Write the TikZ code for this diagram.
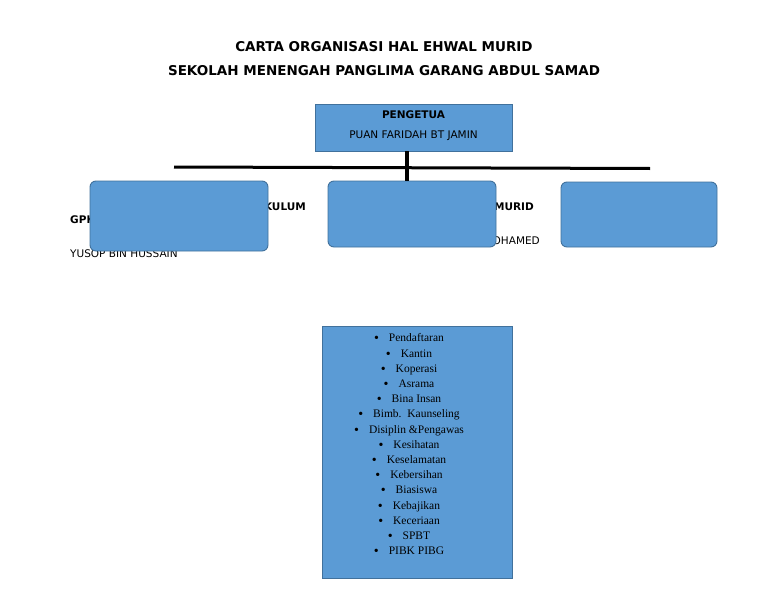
\documentclass[tikz,border=0pt]{standalone}
\usepackage{fontspec}
\setmainfont{DejaVu Sans}
\newfontfamily\listfont{Liberation Serif}
\definecolor{Isi}{HTML}{5B9BD5}
\definecolor{Garis}{HTML}{41719C}
\newcommand{\titik}{\raisebox{-1pt}{\fontsize{14}{15.2}\selectfont\textbullet}\hspace{10pt}}
\newcommand{\perkara}[1]{\titik#1\\} % one list item

\begin{document}
\begin{tikzpicture}[x=1pt,y=-1pt,
    kotak/.style={draw=Garis,fill=Isi,inner sep=0pt,line width=0.9pt},
    bulat/.style={kotak,rounded corners=6pt},
    label/.style={font=\fontsize{10.5}{12}\selectfont,inner sep=0pt}]
  \useasboundingbox (0,0) rectangle (768,594);
  % title
  \node[font=\fontsize{13.5}{16}\selectfont\bfseries] (tajuk) at (384,47) {CARTA ORGANISASI HAL EHWAL MURID};
  \node[font=\fontsize{13.5}{16}\selectfont\bfseries] (sekolah) at (384,71) {SEKOLAH MENENGAH PANGLIMA GARANG ABDUL SAMAD};
  % pengetua
  \node[kotak,minimum width=197pt,minimum height=47pt] (ketua) at (413.5,127.5) {};
  \node[label,font=\fontsize{10.5}{12}\selectfont\bfseries] (jawatan) at (413.5,115) {PENGETUA};
  \node[label] (nama) at (413.5,136) {PUAN FARIDAH BT JAMIN};
  % texts under the boxes
  \node[label,anchor=west,font=\fontsize{10.5}{12}\selectfont\bfseries] (gpkA) at (70,220) {GPK};
  \node[label,anchor=east,font=\fontsize{10.5}{12}\selectfont\bfseries] (kokum) at (306,207) {KOKURIKULUM};
  \node[label,anchor=west] (yusop) at (70,254) {YUSOP BIN HUSSAIN};
  \node[label,anchor=east,font=\fontsize{10.5}{12}\selectfont\bfseries] (hem) at (534,207) {HAL EHWAL MURID};
  \node[label,anchor=east] (mohamed) at (540,241) {MOHAMED};
  % boxes
  \node[bulat,minimum width=178pt,minimum height=70pt] (gpk1) at (179,216) {};
  \node[bulat,minimum width=168pt,minimum height=66pt] (gpk2) at (412,214) {};
  \node[bulat,minimum width=156pt,minimum height=65pt] (gpk3) at (639,214.5) {};
  % lines
  \coordinate (kiri) at (174,167);
  \coordinate (kanan) at (650,168.5);
  \coordinate (atas) at (407,151);
  \draw[line width=3pt] (kiri) -- (kanan);
  \draw[line width=3.5pt] (atas) -- (atas |- gpk2.north);
  % list
  \node[kotak,minimum width=190pt,minimum height=252pt] (tugas) at (417,452) {};
  \node[anchor=north,align=center,inner sep=0pt,font=\listfont\fontsize{11.5}{15.2}\selectfont] (senarai) at ([xshift=-8pt,yshift=-8pt]tugas.north) {%
    \perkara{Pendaftaran}
    \perkara{Kantin}
    \perkara{Koperasi}
    \perkara{Asrama}
    \perkara{Bina Insan}
    \perkara{Bimb.\ \ Kaunseling}
    \perkara{Disiplin \&Pengawas}
    \perkara{Kesihatan}
    \perkara{Keselamatan}
    \perkara{Kebersihan}
    \perkara{Biasiswa}
    \perkara{Kebajikan}
    \perkara{Keceriaan}
    \perkara{SPBT}
    \titik PIBK PIBG};
\end{tikzpicture}
\end{document}
